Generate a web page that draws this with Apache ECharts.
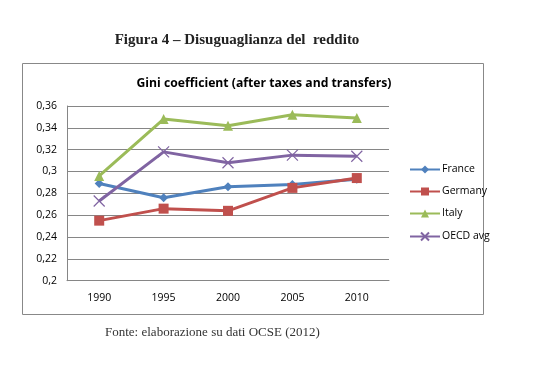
<!DOCTYPE html>
<html><head><meta charset="utf-8">
<script src="https://cdn.jsdelivr.net/npm/echarts@6/dist/echarts.min.js"></script>
<style>html,body{margin:0;padding:0;background:#fff}#c{width:545px;height:378px}</style>
</head><body><div id="c"></div>
<script>
var categories = ['1990','1995','2000','2005','2010'];
var france = [0.289, 0.276, 0.286, 0.288, 0.293];
var germany = [0.255, 0.266, 0.264, 0.285, 0.294];
var italy = [0.296, 0.348, 0.342, 0.352, 0.349];
var oecd = [0.273, 0.318, 0.308, 0.315, 0.314];
var seriesNames = ['France','Germany','Italy','OECD avg'];
var colors = ['#4F81BD','#C0504D','#9BBB59','#8064A2'];

var chart = echarts.init(document.getElementById('c'));
var lbl = {fontFamily:'Open Sans, DejaVu Sans, sans-serif', fontSize:10.5, color:'#000'};
function mk(name, data, color, symbol, size, extra){
  return Object.assign({
    name:name, type:'line', data:data, symbol:symbol, symbolSize:size,
    lineStyle:{color:color, width:3}, itemStyle:{color:color},
    animation:false
  }, extra||{});
}
chart.setOption({
  animation:false,
  title:[
    {text:'Figura 4 – Disuguaglianza del  reddito', left:232, top:28, textAlign:'center',
     textStyle:{fontFamily:'Liberation Serif, serif', fontWeight:'bold', fontSize:15, color:'#222'}},
    {text:'Gini coefficient (after taxes and transfers)', left:259, top:73, textAlign:'center',
     textStyle:{fontFamily:'Open Sans, DejaVu Sans, sans-serif', fontWeight:'bold', fontSize:12.2, color:'#000'}}
  ],
  graphic:[
    {type:'rect', shape:{x:22.5,y:63.5,width:461,height:251}, style:{fill:'none', stroke:'#888', lineWidth:1}},
    {type:'text', left:105, top:326, style:{text:'Fonte: elaborazione su dati OCSE (2012)', font:'13px "Liberation Serif", serif', fill:'#333'}}
  ],
  legend:{
    orient:'vertical', left:404, top:159, itemGap:11, itemWidth:30, itemHeight:10,
    data:seriesNames,
    textStyle:Object.assign({}, lbl, {padding:[0,0,0,-3]})
  },
  grid:{left:67, top:106, width:322, height:174.7, containLabel:false},
  xAxis:{type:'category', data:categories, boundaryGap:true,
    axisLine:{lineStyle:{color:'#868686'}}, axisTick:{show:false},
    axisLabel:Object.assign({margin:12}, lbl)},
  yAxis:{type:'value', min:0.2, max:0.36, interval:0.02,
    axisLine:{show:true, lineStyle:{color:'#868686'}}, axisTick:{show:false},
    splitLine:{lineStyle:{color:'#868686'}},
    axisLabel:Object.assign({margin:10, formatter:function(v){return String(Math.round(v*100)/100).replace('.',',');}}, lbl)},
  series:[
    mk(seriesNames[0], france, colors[0], 'diamond', 9),
    mk(seriesNames[1], germany, colors[1], 'rect', 10),
    mk(seriesNames[2], italy, colors[2], 'triangle', 10),
    mk(seriesNames[3], oecd, colors[3], 'path://M0,0L10,10M10,0L0,10', 11,
      {itemStyle:{color:'none', borderColor:colors[3], borderWidth:1.2}})
  ]
});
</script></body></html>
